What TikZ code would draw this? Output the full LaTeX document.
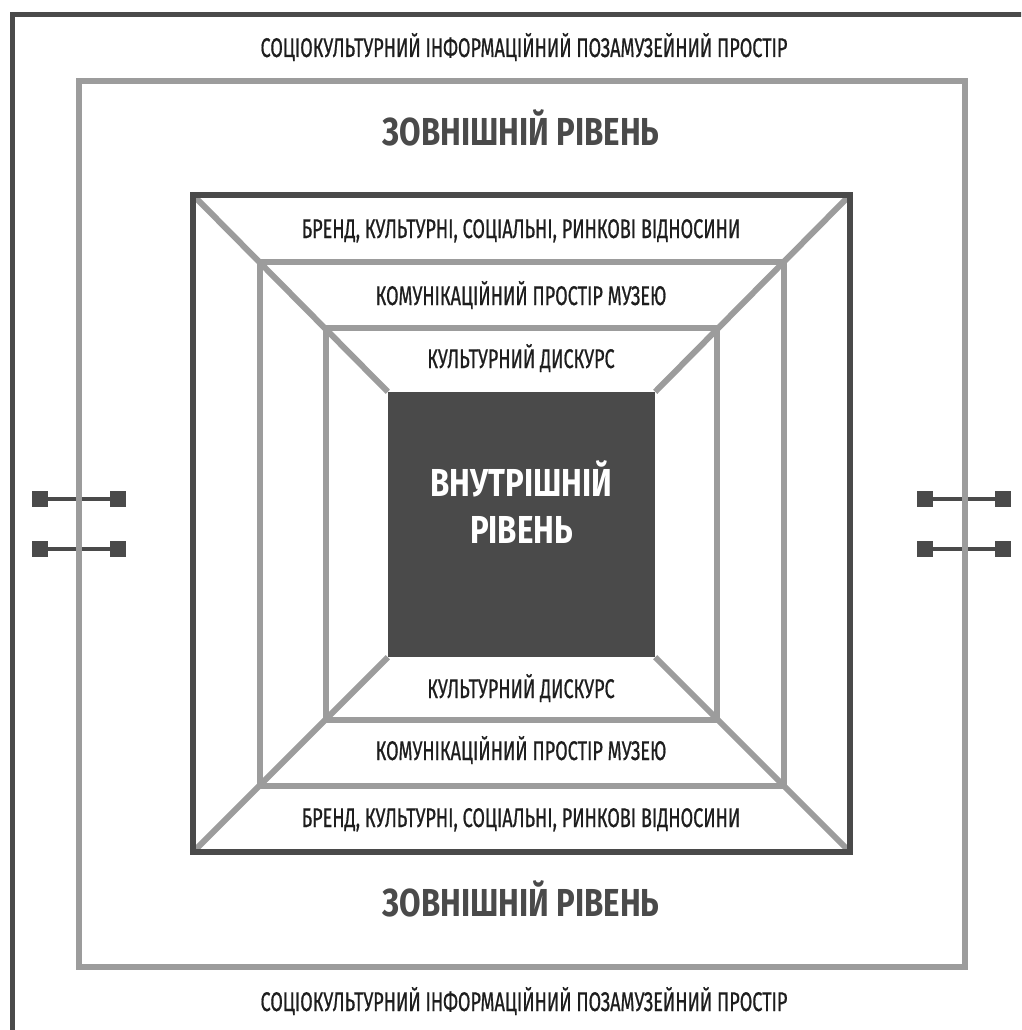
\documentclass[tikz,border=0pt]{standalone}
\usepackage{fontspec}
\setmainfont{Fira Sans}[FakeStretch=0.67, FakeBold=0.6]
\newfontfamily\levelfont{Fira Sans}[FakeStretch=0.8]
\definecolor{darkgr}{HTML}{4A4A4A}
\definecolor{lightgr}{HTML}{9C9C9C}
\definecolor{inkgr}{HTML}{1E1E1E}
\tikzset{
  frame/.style={draw=darkgr, line width=6pt},
  ring/.style={draw=lightgr, line width=6pt},
  layer/.style={anchor=base, text=inkgr, inner sep=0pt, font=\fontsize{27}{30}\selectfont},
  level/.style={anchor=base, text=darkgr, inner sep=0pt, font=\levelfont\bfseries\fontsize{39}{44}\selectfont},
  plug/.style={fill=darkgr, minimum size=16pt, inner sep=0pt},
  link/.style={draw=darkgr, line width=3.5pt},
}
\begin{document}
\begin{tikzpicture}[x=1pt,y=-1pt]
\useasboundingbox (0,0) rectangle (1021,1030);
\fill[white] (0,0) rectangle (1021,1030);

% outer frame, cut off at right and bottom
\begin{scope}
\clip (0,0) rectangle (1021,1030);
\draw[frame, line width=5pt] (12,15) rectangle (1100,1100);
\end{scope}

% connectors on the outer level
\foreach \x in {79,964} \foreach \y in {499,549} {
  \node[plug] (pa) at (\x-39,\y) {};
  \node[plug] (pb) at (\x+39,\y) {};
  \draw[link] (pa) -- (pb);
}

\draw[ring] (79,81) rectangle (965,967);

% museum box
\coordinate (b1) at (193,195);
\coordinate (b2) at (850,195);
\coordinate (b3) at (850,852);
\coordinate (b4) at (193,852);
\node[fill=darkgr, minimum width=267pt, minimum height=265pt, inner sep=0pt] (core) at (521.5,524.5) {};
\node[text=white, align=center, inner sep=0pt, font=\levelfont\bfseries\fontsize{39}{47}\selectfont]
  (corelbl) at ([yshift=22pt]core.center) {ВНУТРІШНІЙ\\РІВЕНЬ};

\draw[ring] (260,262) rectangle (784,786);
\draw[ring] (326,328) rectangle (717,720);
\draw[ring] (b1) -- (core.north west);
\draw[ring] (b2) -- (core.north east);
\draw[ring] (b3) -- (core.south east);
\draw[ring] (b4) -- (core.south west);
\draw[frame] (b1) -- (b2) -- (b3) -- (b4) -- cycle;

% texts
\node[layer] (spacetop) at (524,57) {СОЦІОКУЛЬТУРНИЙ ІНФОРМАЦІЙНИЙ ПОЗАМУЗЕЙНИЙ ПРОСТІР};
\node[level] (outtop) at (521,146) {ЗОВНІШНІЙ РІВЕНЬ};
\node[layer] (brandtop) at (521,238) {БРЕНД, КУЛЬТУРНІ, СОЦІАЛЬНІ, РИНКОВІ ВІДНОСИНИ};
\node[layer] (commtop) at (521,305) {КОМУНІКАЦІЙНИЙ ПРОСТІР МУЗЕЮ};
\node[layer] (disctop) at (521,368) {КУЛЬТУРНИЙ ДИСКУРС};
\node[layer] (discbot) at (521,698) {КУЛЬТУРНИЙ ДИСКУРС};
\node[layer] (commbot) at (521,760) {КОМУНІКАЦІЙНИЙ ПРОСТІР МУЗЕЮ};
\node[layer] (brandbot) at (521,827) {БРЕНД, КУЛЬТУРНІ, СОЦІАЛЬНІ, РИНКОВІ ВІДНОСИНИ};
\node[level] (outbot) at (521,916) {ЗОВНІШНІЙ РІВЕНЬ};
\node[layer] (spacebot) at (524,1011) {СОЦІОКУЛЬТУРНИЙ ІНФОРМАЦІЙНИЙ ПОЗАМУЗЕЙНИЙ ПРОСТІР};
\end{tikzpicture}
\end{document}
